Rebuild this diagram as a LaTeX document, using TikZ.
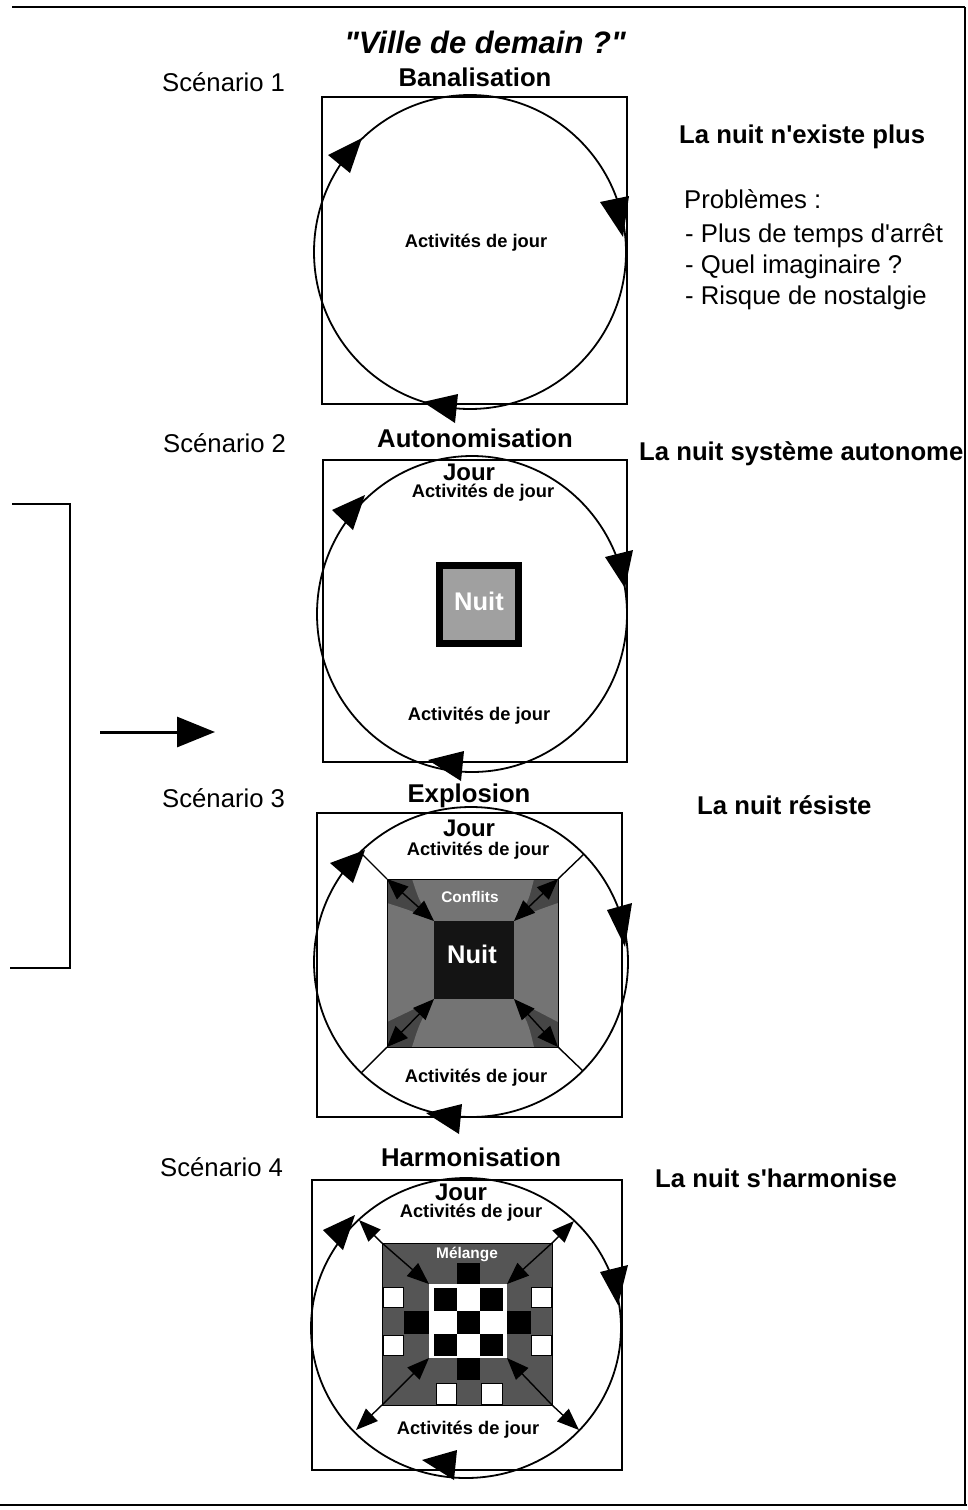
\documentclass[tikz,border=0pt]{standalone}
\usepackage{fontspec}
\setmainfont{Liberation Sans}
\usetikzlibrary{arrows.meta}
\definecolor{dkgray}{HTML}{464646}
\definecolor{ltgray}{HTML}{747474}
\definecolor{nuitgray}{HTML}{A0A0A0}
\definecolor{mixgray}{HTML}{555555}
\begin{document}
\begin{tikzpicture}[x=1pt,y=-1pt,
  lab/.style={font=\fontsize{25.7}{30}\selectfont, anchor=base west, inner sep=0pt},
  labb/.style={font=\bfseries\fontsize{25.7}{30}\selectfont, anchor=base west, inner sep=0pt},
  hd/.style={font=\bfseries\fontsize{25.7}{30}\selectfont, anchor=base, inner sep=0pt},
  act/.style={font=\bfseries\fontsize{18.3}{22}\selectfont, anchor=base, inner sep=0pt},
  jr/.style={font=\bfseries\fontsize{24}{28}\selectfont, anchor=base, inner sep=0pt},
  wt/.style={text=white, font=\bfseries\fontsize{15.4}{18}\selectfont, anchor=base, inner sep=0pt},
  wtbig/.style={text=white, font=\bfseries\fontsize{25.5}{28}\selectfont, anchor=base, inner sep=0pt},
  frame/.style={line width=1.4pt},
  ring/.style={line width=1.8pt},
  rulebar/.style={line width=2pt},
  arw/.style={-{Triangle[length=22pt,width=17pt]}, line width=1.4pt},
  darw/.style={{Triangle[length=21pt,width=17pt]}-{Triangle[length=21pt,width=17pt]}, line width=1.4pt},
  cellw/.style={fill=white, draw=black, line width=0.6pt},
]
\useasboundingbox (0,0) rectangle (967,1510);

% page rules
\draw[rulebar] (12,7) -- (965,7);
\draw[rulebar] (965,7) -- (965,1505);
\draw[rulebar] (0,1505) -- (967,1505);

% left bracket and arrow
\draw[frame] (12,504) -- (70,504) -- (70,968) -- (10,968);
\coordinate (arrS) at (100,732);
\coordinate (arrE) at (215,732);
\draw[line width=3pt, -{Triangle[length=38pt,width=30pt]}] (arrS) -- (arrE);

% title
\node[font=\bfseries\itshape\fontsize{31}{36}\selectfont, anchor=base, inner sep=0pt] (title) at (485,53) {\textquotedbl Ville de demain ?\textquotedbl};

% ---------------- Scenario 1
\node[lab] (sc1) at (162,91) {Scénario 1};
\node[hd] (h1) at (475,86) {Banalisation};
\draw[frame] (322,97) rectangle (627,404);
\draw[ring] (470,252) ellipse [x radius=156, y radius=157];
\fill (362,138) -- (328,155) -- (350,173) -- cycle;
\fill (600,202) -- (629,196) -- (623,237) -- cycle;
\fill (423,402) -- (458,394) -- (455,423) -- cycle;
\node[act] (a1) at (476,247) {Activités de jour};
\node[labb] (r1) at (679,143) {La nuit n\textquotesingle existe plus};
\node[lab] (p1) at (684,208) {Problèmes :};
\node[lab] (p2) at (685,242) {- Plus de temps d\textquotesingle arrêt};
\node[lab] (p3) at (685,273) {- Quel imaginaire ?};
\node[lab] (p4) at (685,304) {- Risque de nostalgie};

% ---------------- Scenario 2
\node[lab] (sc2) at (163,452) {Scénario 2};
\node[hd] (h2) at (475,447) {Autonomisation};
\node[labb] (r2) at (639,460) {La nuit système autonome};
\draw[frame] (323,460) rectangle (627,762);
\draw[ring] (472,614) ellipse [x radius=155, y radius=158];
\fill (365,495) -- (332,510) -- (353,530) -- cycle;
\fill (605,557) -- (633,550) -- (625,588) -- cycle;
\fill (428,760) -- (464,751) -- (461,781) -- cycle;
\node[jr] (j2) at (469,480) {Jour};
\node[act] (a2t) at (483,497) {Activités de jour};
\node[act] (a2b) at (479,720) {Activités de jour};
\draw[line width=7pt, fill=nuitgray] (439.5,565.5) rectangle (518.5,643.5);
\node[wtbig] (n2) at (479,610) {Nuit};

% ---------------- Scenario 3
\node[lab] (sc3) at (162,807) {Scénario 3};
\node[hd] (h3) at (469,802) {Explosion};
\node[labb] (r3) at (697,814) {La nuit résiste};
\draw[frame] (317,813) rectangle (622,1117);
\draw[ring] (471,962) ellipse [x radius=157, y radius=155];
\fill (365,850) -- (330,863) -- (353,883) -- cycle;
\fill (607,910) -- (632,903) -- (625,947) -- cycle;
\fill (426,1113) -- (462,1104) -- (459,1134) -- cycle;
\node[jr] (j3) at (469,836) {Jour};
\node[act] (a3t) at (478,855) {Activités de jour};
\node[act] (a3b) at (476,1082) {Activités de jour};
\fill[dkgray] (387,879) rectangle (558,1047);
\fill[ltgray] (412,879) .. controls (420,903) .. (434,921) -- (514,921) .. controls (528,903) .. (534,879) -- cycle;
\fill[ltgray] (412,1047) .. controls (420,1022) .. (434,999) -- (514,999) .. controls (528,1022) .. (534,1047) -- cycle;
\fill[ltgray] (387,903) .. controls (412,911) .. (434,921) -- (434,999) .. controls (412,1010) .. (387,1022) -- cycle;
\fill[ltgray] (558,903) .. controls (535,911) .. (514,921) -- (514,999) .. controls (535,1010) .. (558,1022) -- cycle;
\draw[line width=0.8pt] (387,879) rectangle (558,1047);
\fill[black!92] (434,921) rectangle (514,999);
\coordinate (g3tl) at (387,879); \coordinate (g3tr) at (558,879);
\coordinate (g3bl) at (387,1047); \coordinate (g3br) at (558,1047);
\coordinate (b3tl) at (434,921); \coordinate (b3tr) at (514,921);
\coordinate (b3bl) at (434,999); \coordinate (b3br) at (514,999);
\coordinate (c3tl) at (360,852); \coordinate (c3tr) at (584,854);
\coordinate (c3bl) at (361,1073); \coordinate (c3br) at (583,1071);
\draw[frame] (c3tl) -- (g3tl);
\draw[frame] (c3tr) -- (g3tr);
\draw[frame] (c3bl) -- (g3bl);
\draw[frame] (c3br) -- (g3br);
\draw[darw] (g3tl) -- (b3tl);
\draw[darw] (g3tr) -- (b3tr);
\draw[darw] (g3bl) -- (b3bl);
\draw[darw] (g3br) -- (b3br);
\node[wt] (cf3) at (470,902) {Conflits};
\node[wtbig] (n3) at (472,963) {Nuit};

% ---------------- Scenario 4
\node[lab] (sc4) at (160,1176) {Scénario 4};
\node[hd] (h4) at (471,1166) {Harmonisation};
\node[labb] (r4) at (655,1187) {La nuit s\textquotesingle harmonise};
\draw[frame] (312,1180) rectangle (622,1470);
\draw[ring] (466,1328) ellipse [x radius=155, y radius=150];
\fill (355,1215) -- (323,1230) -- (343,1250) -- cycle;
\fill (600,1272) -- (628,1265) -- (618,1305) -- cycle;
\fill (422,1460) -- (457,1450) -- (454,1480) -- cycle;
\node[jr] (j4) at (461,1200) {Jour};
\node[act] (a4t) at (471,1217) {Activités de jour};
\node[act] (a4b) at (468,1434) {Activités de jour};
\fill[mixgray] (382,1243) rectangle (552,1405);
\draw[line width=0.8pt] (382,1243) rectangle (552,1405);
\fill[white] (429,1284) rectangle (507,1358);
% checkerboard
\fill[black] (434,1288) rectangle (457,1311);
\fill[black] (480,1288) rectangle (503,1311);
\fill[black] (457,1311) rectangle (480,1334);
\fill[black] (434,1334) rectangle (457,1356);
\fill[black] (480,1334) rectangle (503,1356);
\fill[black] (457,1263) rectangle (480,1284);
\fill[black] (457,1358) rectangle (480,1380);
\fill[black] (404,1311) rectangle (429,1334);
\fill[black] (507,1311) rectangle (531,1334);
\draw[cellw] (383,1287) rectangle (403,1307);
\draw[cellw] (383,1335) rectangle (403,1355);
\draw[cellw] (531,1287) rectangle (551,1307);
\draw[cellw] (531,1335) rectangle (551,1355);
\draw[cellw] (436,1383) rectangle (456,1404);
\draw[cellw] (481,1383) rectangle (502,1404);
\coordinate (g4tl) at (382,1243); \coordinate (g4tr) at (552,1243);
\coordinate (g4bl) at (382,1405); \coordinate (g4br) at (552,1405);
\coordinate (i4tl) at (429,1284); \coordinate (i4tr) at (507,1284);
\coordinate (i4bl) at (429,1358); \coordinate (i4br) at (507,1358);
\coordinate (c4tl) at (359,1220); \coordinate (c4tr) at (574,1221);
\coordinate (c4bl) at (356,1430); \coordinate (c4br) at (579,1430);
\draw[arw] (g4tl) -- (c4tl);
\draw[arw] (g4tr) -- (c4tr);
\draw[arw] (g4bl) -- (c4bl);
\draw[arw] (g4br) -- (c4br);
\draw[arw] (g4tl) -- (i4tl);
\draw[arw] (g4tr) -- (i4tr);
\draw[arw] (g4bl) -- (i4bl);
\draw[arw] (g4br) -- (i4br);
\node[wt] (mel) at (467,1258) {Mélange};
\end{tikzpicture}
\end{document}
